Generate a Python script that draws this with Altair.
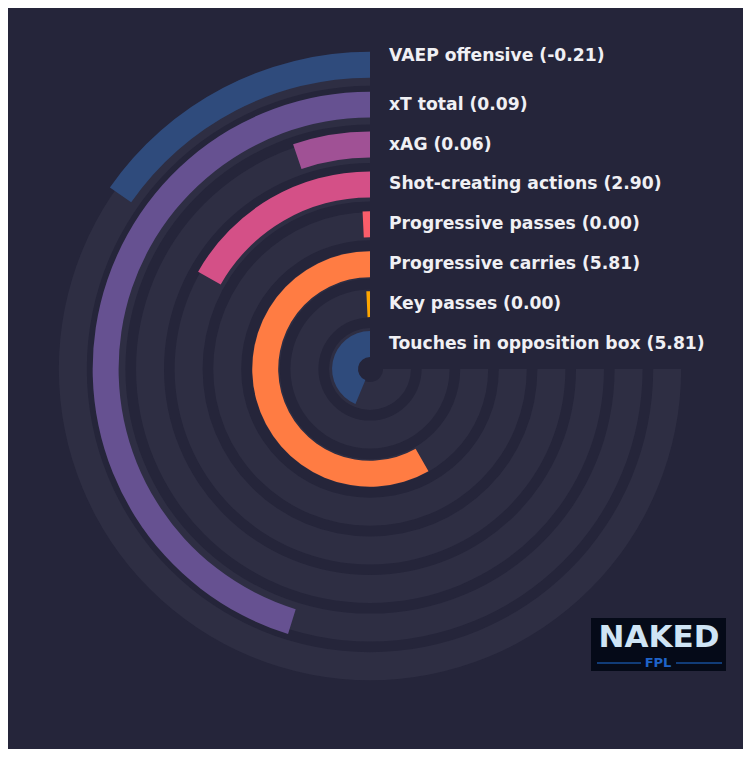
import math
import altair as alt
import pandas as pd

# ---- data (innermost ring first) ----
labels = ["Touches in opposition box", "Key passes", "Progressive carries",
          "Progressive passes", "Shot-creating actions", "xAG", "xT total",
          "VAEP offensive"]
values = [5.81, 0.00, 5.81, 0.00, 2.90, 0.06, 0.09, -0.21]
percentiles = [58.3, 1.0, 77.7, 1.0, 22.4, 7.0, 60.3, 20.4]
colors = ["#2f4b7c", "#ffa600", "#ff7c43", "#f95d6a", "#d45087", "#a05195",
          "#665191", "#2f4b7c"]

BG = "#25253a"
TRACK = "#2e2e43"
TEXT = "#f0f0f4"
FONT = "DejaVu Sans"
CX, CY = 362, 361  # centre of the rings inside the view

n = len(labels)
df = pd.DataFrame({"label": labels, "value": values, "pct": percentiles,
                   "color": colors, "ring": list(range(n))})
df["text"] = [f"{l} ({v:.2f})" for l, v in zip(labels, values)]
df["start"] = 0.0
df["track_end"] = 100.0
BAR_W = 0.65
TRACK_W = 0.725
df["r_bar_out"] = df["ring"] + BAR_W
df["r_track_out"] = df["ring"] + TRACK_W
df["r_label"] = df["ring"] + BAR_W / 2

theta_scale = alt.Scale(domain=[0, 100], range=[2 * math.pi, math.pi / 2])
track_r = alt.Scale(type="linear", domain=[0, n - 1], range=[13, 283.2], zero=False)
bar_r = alt.Scale(type="linear", domain=[0, n - 1], range=[12, 291.3], zero=False)

base = alt.Chart(df)
centre = dict(x=alt.value(CX), y=alt.value(CY))

tracks = base.mark_arc(color=TRACK).encode(
    theta=alt.Theta("start:Q", scale=theta_scale, stack=None),
    theta2="track_end:Q",
    radius=alt.Radius("ring:Q", scale=track_r),
    radius2="r_track_out:Q",
    **centre,
)

bars = base.mark_arc().encode(
    theta=alt.Theta("start:Q", scale=theta_scale, stack=None),
    theta2="pct:Q",
    radius=alt.Radius("ring:Q", scale=bar_r),
    radius2="r_bar_out:Q",
    color=alt.Color("color:N", scale=None),
    **centre,
)

text_kw = dict(align="left", baseline="middle", dx=19, font=FONT,
               fontWeight="bold", fontSize=17.2, color=TEXT)
labels_inner = base.transform_filter(alt.datum.ring < n - 1).mark_text(**text_kw).encode(
    theta=alt.value(0),
    radius=alt.Radius("r_label:Q", scale=bar_r),
    text="text:N",
    **centre,
)
labels_outer = base.transform_filter(alt.datum.ring == n - 1).mark_text(dy=-9, **text_kw).encode(
    theta=alt.value(0),
    radius=alt.Radius("r_label:Q", scale=bar_r),
    text="text:N",
    **centre,
)

# ---- logo (decoration) ----
logo_df = pd.DataFrame({"name": ["NAKED"], "sub": ["FPL"]})
logo = alt.Chart(logo_df)
logo_box = logo.mark_rect(color="#050a18").encode(
    x=alt.value(583), x2=alt.value(718), y=alt.value(610), y2=alt.value(663))
logo_name = logo.mark_text(font=FONT, fontWeight="bold", fontSize=31,
                           color="#cfe4f5", baseline="middle").encode(
    x=alt.value(651), y=alt.value(630), text="name:N")
logo_sub = logo.mark_text(font=FONT, fontWeight="bold", fontSize=13,
                          color="#1f63c9", baseline="middle").encode(
    x=alt.value(650), y=alt.value(655), text="sub:N")
logo_l1 = logo.mark_rule(color="#1f6fd8", strokeWidth=1).encode(
    x=alt.value(589), x2=alt.value(633), y=alt.value(655))
logo_l2 = logo.mark_rule(color="#1f6fd8", strokeWidth=1).encode(
    x=alt.value(668), x2=alt.value(714), y=alt.value(655))

chart = alt.layer(
    tracks, bars, labels_inner, labels_outer,
    logo_box, logo_name, logo_sub, logo_l1, logo_l2,
).resolve_scale(radius="independent").properties(
    width=735, height=741, padding=0,
    autosize=alt.AutoSizeParams(type="none"),
    background=BG,
).configure_view(stroke=None)

chart.save("out.html", embed_options={"renderer": "svg", "actions": False})
